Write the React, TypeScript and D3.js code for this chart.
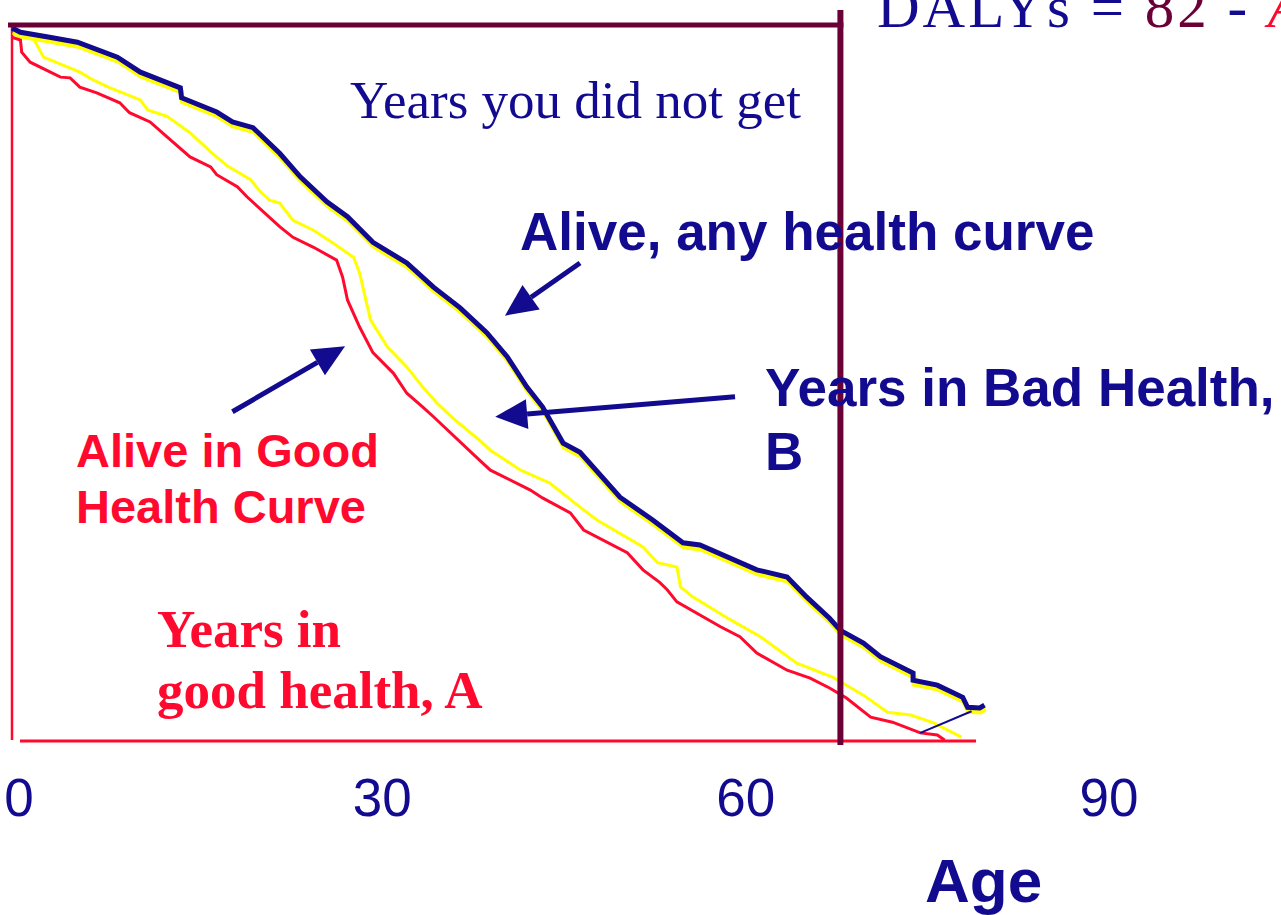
import React from 'react';
import * as d3 from 'd3';

const NAVY = '#120a8f';
const RED = '#ff0a2e';
const MAROON = '#6b0036';
const YELLOW = '#ffff00';

// % still alive at each age
const anyHealth: [number, number][] = [
  [0, 100], [0.7, 99.4], [3.1, 98.7], [5.4, 98.0], [8.7, 95.9], [10.6, 93.8], [13.9, 91.6],
  [14.0, 90.2], [16.9, 88.2], [18.2, 86.8], [19.9, 86.0], [22.1, 82.4], [23.8, 79.1],
  [26.0, 75.6], [27.7, 73.5], [29.8, 69.9], [32.6, 67.0], [34.8, 63.6], [37.0, 60.7],
  [39.2, 57.2], [40.9, 53.8], [42.5, 49.6], [43.8, 46.8], [45.5, 41.7], [46.9, 40.4],
  [50.2, 34.1], [52.9, 30.9], [55.4, 27.7], [56.8, 27.4], [61.5, 23.9], [64.0, 22.9],
  [65.6, 20.1], [67.5, 17.1], [68.4, 15.4], [70.3, 13.6], [71.7, 11.7], [74.4, 9.4],
  [74.4, 8.4], [76.4, 7.7], [78.5, 6.0], [78.9, 4.6], [79.9, 4.5], [80.3, 4.9],
];

const midHealth: [number, number][] = [
  [1.5, 99.4], [2.6, 95.9], [5.6, 93.8], [6.7, 92.7], [8.1, 91.6], [10.6, 89.9], [11.2, 88.5],
  [12.8, 87.6], [14.7, 85.3], [16.4, 82.6], [17.8, 80.6], [19.7, 78.7], [20.5, 77.0],
  [21.3, 75.8], [22.1, 75.4], [23.2, 73.0], [24.9, 71.6], [26.5, 69.8], [28.2, 67.8],
  [28.7, 65.6], [29.6, 59.0], [31.0, 55.2], [32.6, 52.4], [33.9, 49.6], [35.1, 47.3],
  [36.4, 45.2], [38.6, 42.1], [39.5, 40.7], [42.0, 37.9], [44.4, 36.1], [46.9, 32.7],
  [48.3, 30.9], [52.1, 27.1], [53.3, 24.9], [54.9, 24.3], [55.2, 21.5], [56.2, 20.1],
  [59.3, 16.9], [61.8, 14.5], [64.8, 10.8], [67.8, 8.8], [68.9, 7.7], [70.3, 6.3],
  [72.3, 3.9], [74.2, 3.5], [76.1, 2.4], [78.4, 0.4],
];

const goodHealth: [number, number][] = [
  [0, 98.7], [0.7, 98.3], [0.8, 96.6], [1.5, 95.2], [4.0, 93.1], [4.8, 93.0], [5.6, 91.7],
  [7.0, 90.9], [8.9, 89.5], [9.7, 88.1], [11.4, 86.8], [12.8, 84.7], [14.7, 81.9],
  [16.4, 80.5], [16.9, 79.4], [18.6, 77.7], [19.4, 76.3], [22.1, 72.1], [23.2, 70.6],
  [24.9, 69.2], [26.8, 67.4], [27.3, 65.0], [27.7, 61.8], [28.7, 58.0], [29.8, 54.4],
  [31.5, 51.5], [32.6, 48.7], [33.9, 46.8], [34.8, 45.4], [38.6, 39.3], [39.5, 37.9],
  [42.8, 35.1], [43.8, 34.0], [46.1, 31.9], [47.2, 29.5], [50.8, 26.3], [52.1, 23.9],
  [53.5, 22.1], [54.1, 21.1], [54.9, 19.4], [58.5, 15.9], [60.1, 14.5], [61.5, 12.2],
  [64.0, 9.8], [65.9, 8.7], [67.5, 7.3], [68.9, 5.9], [70.9, 3.2], [72.7, 2.5],
  [75.0, 1.0], [76.4, 0.7], [77.0, 0],
];

const ageTicks = [0, 30, 60, 90];
const cutoffAge = 68.4;

// annotation arrows in [age, %] (from -> to)
const arrows: [number, number, number, number][] = [
  [46.9, 67.0, 40.7, 59.6],
  [18.2, 46.1, 27.5, 55.3],
  [59.7, 48.2, 39.9, 45.4],
];

const x = d3.scaleLinear().domain([0, 90]).range([12, 1102]);
const y = d3.scaleLinear().domain([0, 100]).range([740, 28]);
const line = d3.line<[number, number]>().x(d => x(d[0])).y(d => y(d[1]));

function Arrow({ a }: { a: [number, number, number, number] }) {
  const x1 = x(a[0]), y1 = y(a[1]), x2 = x(a[2]), y2 = y(a[3]);
  const ang = Math.atan2(y2 - y1, x2 - x1);
  const len = 32, half = 15;
  const bx = x2 - len * Math.cos(ang), by = y2 - len * Math.sin(ang);
  const px = -Math.sin(ang) * half, py = Math.cos(ang) * half;
  return (
    <g>
      <line x1={x1} y1={y1} x2={bx} y2={by} stroke={NAVY} strokeWidth={5} />
      <polygon points={`${x2},${y2} ${bx + px},${by + py} ${bx - px},${by - py}`} fill={NAVY} />
    </g>
  );
}

export default function App() {
  const sans = 'Liberation Sans, Arial, sans-serif';
  const serif = 'Liberation Serif, Times New Roman, serif';
  const redEnd = goodHealth[goodHealth.length - 3];
  const blueEnd = anyHealth[anyHealth.length - 3];
  return (
    <svg width={1281} height={915} style={{ position: 'absolute', left: 0, top: 0, background: '#fff' }}>
      {/* frame */}
      <line x1={x(0)} y1={y(100) - 3} x2={x(0)} y2={y(0)} stroke={RED} strokeWidth={2.5} />
      <line x1={x(0) + 8} y1={y(0) + 1} x2={x(79.6)} y2={y(0) + 1} stroke={RED} strokeWidth={3} />

      {/* curves */}
      <path d={line(anyHealth) ?? ''} fill="none" stroke={YELLOW} strokeWidth={5} transform="translate(1,4)" />
      <path d={line(midHealth) ?? ''} fill="none" stroke={YELLOW} strokeWidth={3} />
      <path d={line(goodHealth) ?? ''} fill="none" stroke={RED} strokeWidth={3} />
      <path d={line(anyHealth) ?? ''} fill="none" stroke={NAVY} strokeWidth={5} />
      <line x1={x(redEnd[0])} y1={y(redEnd[1])} x2={x(blueEnd[0]) + 4} y2={y(blueEnd[1]) + 4} stroke={NAVY} strokeWidth={2} />

      {/* years-not-lived box */}
      <line x1={8} y1={25} x2={x(cutoffAge) + 3} y2={25} stroke={MAROON} strokeWidth={5} />
      <line x1={x(cutoffAge)} y1={10} x2={x(cutoffAge)} y2={y(0) + 5} stroke={MAROON} strokeWidth={6} />

      {arrows.map((a, i) => <Arrow key={i} a={a} />)}

      <text x={877} y={27} fontFamily={serif} fontSize={59} letterSpacing={3} fill={NAVY}>
        DALYs =<tspan fill={MAROON}> 82</tspan> - <tspan fill={RED} fontStyle="italic">A</tspan>
      </text>
      <text x={350} y={118} fontFamily={serif} fontSize={53} fill={NAVY}>Years you did not get</text>
      <text x={520} y={250} fontFamily={sans} fontSize={53} fontWeight="bold" fill={NAVY}>Alive, any health curve</text>
      <text fontFamily={sans} fontSize={53} fontWeight="bold" fill={NAVY}>
        <tspan x={765} y={406}>Years in Bad Health,</tspan>
        <tspan x={765} y={470}>B</tspan>
      </text>
      <text fontFamily={sans} fontSize={47} fontWeight="bold" fill={RED}>
        <tspan x={76} y={467}>Alive in Good</tspan>
        <tspan x={76} y={523}>Health Curve</tspan>
      </text>
      <text fontFamily={serif} fontSize={53} fontWeight="bold" fill={RED}>
        <tspan x={157} y={647}>Years in</tspan>
        <tspan x={157} y={708}>good health, A</tspan>
      </text>

      {ageTicks.map(t => (
        <text key={t} x={x(t)} dx={7} y={816} textAnchor="middle" fontFamily={sans} fontSize={53} fill={NAVY}>{t}</text>
      ))}
      <text x={925} y={902} fontFamily={sans} fontSize={62} fontWeight="bold" fill={NAVY}>Age</text>
    </svg>
  );
}
